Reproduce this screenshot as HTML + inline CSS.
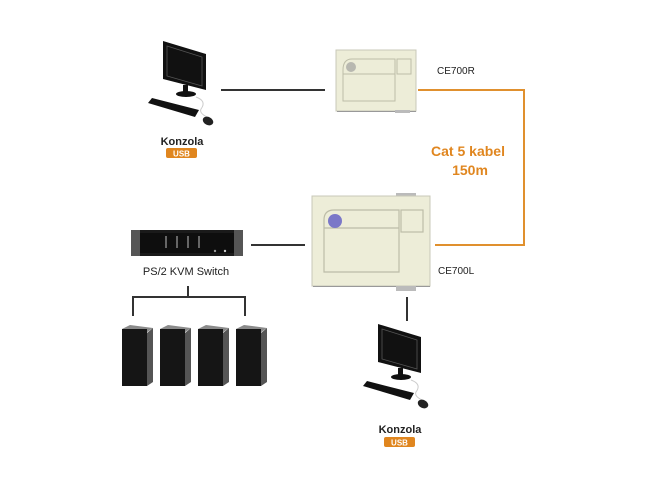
<!DOCTYPE html>
<html><head><meta charset="utf-8"><style>
html,body{margin:0;padding:0;background:#fff}
svg{display:block}
text{font-family:"Liberation Sans",sans-serif}
</style></head><body>
<svg width="650" height="489" viewBox="0 0 650 489" xmlns="http://www.w3.org/2000/svg">
<defs>
<g id="mon">
  <polygon points="0,0 43,13 43,49 0,38" fill="#111"/>
  <polygon points="4,5 39,16 39,45 4,35" fill="none" stroke="#555" stroke-width="0.8"/>
  <rect x="20" y="44" width="5" height="8" fill="#111"/>
  <ellipse cx="23" cy="53" rx="10" ry="3" fill="#111"/>
  <polygon points="-15,62 -11,57 36,69 32,76" fill="#111"/>
  <path d="M33,56 Q44,60 38,68 Q36,72 44,76" fill="none" stroke="#ccc" stroke-width="1"/>
  <ellipse cx="45" cy="80" rx="5.5" ry="4" fill="#222" transform="rotate(25 45 80)"/>
</g>
<g id="srv">
  <polygon points="0,4 8,0 31,3 24,8" fill="#8a8a8a"/>
  <rect x="0" y="4" width="25" height="57" fill="#151515"/>
  <polygon points="25,8 31,3 31,57 25,61" fill="#555"/>
</g>
</defs>

<use href="#mon" x="163" y="41"/>
<text x="182" y="145" font-size="11" font-weight="bold" text-anchor="middle" fill="#222">Konzola</text>
<rect x="166" y="148" width="31" height="10" rx="2" fill="#e0861f"/>
<text x="181.5" y="156.5" font-size="8" font-weight="bold" text-anchor="middle" fill="#fff">USB</text>

<line x1="221" y1="90" x2="325" y2="90" stroke="#333" stroke-width="2"/>

<rect x="336" y="50" width="80" height="61" fill="#ededd8" stroke="#c8c8b8" stroke-width="1"/>
<line x1="337" y1="111.5" x2="416" y2="111.5" stroke="#999" stroke-width="1"/>
<rect x="395" y="110" width="15" height="3" fill="#bbb"/>
<path d="M343,70 Q343,59 352,59 L395,59 L395,101 L343,101 Z" fill="none" stroke="#bdbda8" stroke-width="1"/>
<line x1="343" y1="74" x2="395" y2="74" stroke="#bdbda8"/>
<rect x="397" y="59" width="14" height="15" fill="none" stroke="#bdbda8"/>
<circle cx="351" cy="67" r="5" fill="#b8b8b0"/>
<text x="437" y="74" font-size="10" fill="#222">CE700R</text>

<polyline points="418,90 524,90 524,245 435,245" fill="none" stroke="#e0902e" stroke-width="2"/>
<text x="468" y="156" font-size="14" font-weight="bold" text-anchor="middle" fill="#e0861f">Cat 5 kabel</text>
<text x="470" y="175" font-size="14" font-weight="bold" text-anchor="middle" fill="#e0861f">150m</text>

<rect x="396" y="193" width="20" height="4" fill="#bbb"/>
<rect x="312" y="196" width="118" height="90" fill="#ededd8" stroke="#c8c8b8"/>
<line x1="313" y1="286.5" x2="430" y2="286.5" stroke="#999"/>
<rect x="396" y="286" width="20" height="5" fill="#bbb"/>
<path d="M324,220 Q324,210 334,210 L399,210 L399,272 L324,272 Z" fill="none" stroke="#bdbda8" stroke-width="1.2"/>
<line x1="324" y1="228" x2="399" y2="228" stroke="#bdbda8" stroke-width="1.2"/>
<rect x="401" y="210" width="22" height="22" fill="none" stroke="#bdbda8" stroke-width="1.2"/>
<circle cx="335" cy="221" r="7" fill="#7b78c8"/>
<text x="438" y="274" font-size="10" fill="#222">CE700L</text>

<rect x="131" y="230" width="112" height="26" fill="#1a1a1a"/>
<rect x="131" y="230" width="9" height="26" fill="#555"/>
<rect x="234" y="230" width="9" height="26" fill="#555"/>
<rect x="140" y="233" width="94" height="20" fill="#0e0e0e"/>
<rect x="165" y="236" width="2" height="12" fill="#666"/>
<rect x="176" y="236" width="2" height="12" fill="#666"/>
<rect x="187" y="236" width="2" height="12" fill="#666"/>
<rect x="198" y="236" width="2" height="12" fill="#666"/>
<circle cx="215" cy="251" r="1.2" fill="#999"/>
<circle cx="225" cy="251" r="1.2" fill="#ccc"/>
<text x="186" y="275" font-size="11" text-anchor="middle" fill="#222">PS/2 KVM Switch</text>
<line x1="251" y1="245" x2="305" y2="245" stroke="#333" stroke-width="2"/>

<polyline points="133,316 133,297 245,297 245,316" fill="none" stroke="#333" stroke-width="2"/>
<line x1="188" y1="286" x2="188" y2="297" stroke="#333" stroke-width="2"/>

<use href="#srv" x="122" y="325"/>
<use href="#srv" x="160" y="325"/>
<use href="#srv" x="198" y="325"/>
<use href="#srv" x="236" y="325"/>

<line x1="407" y1="297" x2="407" y2="321" stroke="#333" stroke-width="2"/>
<use href="#mon" x="378" y="324"/>
<text x="400" y="433" font-size="11" font-weight="bold" text-anchor="middle" fill="#222">Konzola</text>
<rect x="384" y="437" width="31" height="10" rx="2" fill="#e0861f"/>
<text x="399.5" y="445.5" font-size="8" font-weight="bold" text-anchor="middle" fill="#fff">USB</text>
</svg>
</body></html>
